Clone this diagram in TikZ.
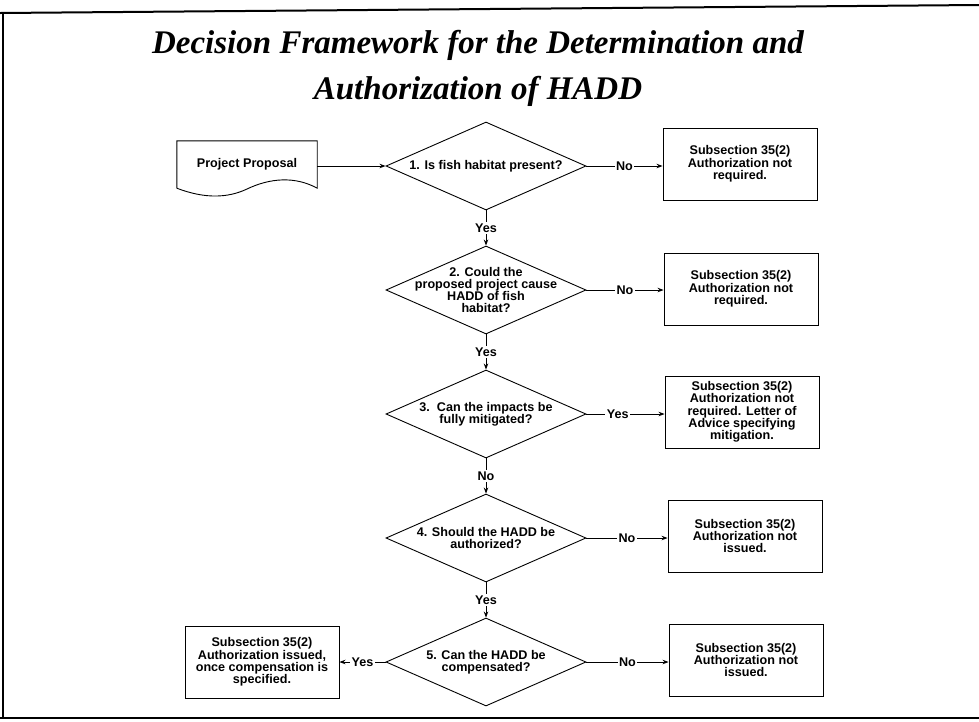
\documentclass[tikz,border=0pt]{standalone}
\usepackage{fontspec}
\setmainfont{Liberation Sans}
\newfontfamily\titlefont{Liberation Serif}
\usetikzlibrary{shapes.geometric,arrows.meta}
\begin{document}
\begin{tikzpicture}[x=1pt,y=-1pt,
  txt/.style={font=\bfseries\fontsize{12.6}{12.3}\selectfont},
  dia/.style={draw, shape=diamond, minimum width=200pt, minimum height=88pt, inner sep=0pt, line width=0.9pt},
  dtext/.style={txt, align=center, inner sep=0pt},
  box/.style={txt, draw, line width=0.9pt, minimum width=154pt, minimum height=72pt, inner sep=0pt, align=center},
  lbl/.style={txt, fill=white, inner sep=1.5pt},
  arr/.style={-{Stealth[length=6pt,width=4.5pt]}, line width=0.9pt},
  frame/.style={line width=2pt}
]
\useasboundingbox (0,0) rectangle (979,721);
% frame
\coordinate (ftl) at (0,13);
\coordinate (ftr) at (979,5);
\coordinate (fl1) at (3,12);
\coordinate (fl2) at (3,718);
\coordinate (fbl) at (0,718);
\coordinate (fbr) at (979,718);
\draw[frame] (ftl) -- (ftr);
\draw[frame] (fl1) -- (fl2);
\draw[frame] (fbl) -- (fbr);
% title
\node[font=\titlefont\bfseries\itshape\fontsize{33}{46}\selectfont, align=center] (title) at (478,68)
  {Decision Framework for the Determination and\\Authorization of HADD};
% project proposal (document shape)
\node[txt, minimum width=140pt, minimum height=47pt, inner sep=0pt] (pp) at (247,164.5) {\raisebox{4pt}{Project Proposal}};
\draw[line width=0.9pt] (pp.south west) -- (pp.north west) -- (pp.north east) -- (pp.south east)
  .. controls (295,176) and (270,178) .. (247,189)
  .. controls (228,198) and (205,199) .. (pp.south west);
% diamonds
\node[dia] (d1) at (486,166) {};
\node[dia] (d2) at (486,290) {};
\node[dia] (d3) at (486,414) {};
\node[dia] (d4) at (486,538) {};
\node[dia] (d5) at (486,662) {};
\node[dtext] (t1) at (d1) {1. Is fish habitat present?};
\node[dtext] (t2) at (d2) {2. Could the\\proposed project cause\\HADD of fish\\habitat?};
\node[dtext] (t3) at (d3) {3.\ \ Can the impacts be\\fully mitigated?};
\node[dtext] (t4) at (d4) {4. Should the HADD be\\authorized?};
\node[dtext] (t5) at (d5) {5. Can the HADD be\\compensated?};
% boxes
\node[box] (b1) at (740,164) {Subsection 35(2)\\Authorization not\\required.};
\node[box] (b2) at (741,289) {Subsection 35(2)\\Authorization not\\required.};
\node[box] (b3) at (742,412) {Subsection 35(2)\\Authorization not\\required. Letter of\\Advice specifying\\mitigation.};
\node[box] (b4) at (745,536) {Subsection 35(2)\\Authorization not\\issued.};
\node[box] (b5) at (746,660) {Subsection 35(2)\\Authorization not\\issued.};
\node[box] (bl) at (262,662) {Subsection 35(2)\\Authorization issued,\\once compensation is\\specified.};
% connectors
\draw[arr] (pp.east |- d1.west) -- (d1.west);
\draw[arr] (d1.east) -- node[lbl] {No} (d1.east -| b1.west);
\draw[arr] (d2.east) -- node[lbl] {No} (d2.east -| b2.west);
\draw[arr] (d3.east) -- node[lbl, pos=0.4] {Yes} (d3.east -| b3.west);
\draw[arr] (d4.east) -- node[lbl] {No} (d4.east -| b4.west);
\draw[arr] (d5.east) -- node[lbl] {No} (d5.east -| b5.west);
\draw[arr] (d5.west) -- node[lbl] {Yes} (d5.west -| bl.east);
\draw[arr] (d1.south) -- node[lbl] {Yes} (d2.north);
\draw[arr] (d2.south) -- node[lbl] {Yes} (d3.north);
\draw[arr] (d3.south) -- node[lbl] {No} (d4.north);
\draw[arr] (d4.south) -- node[lbl] {Yes} (d5.north);
\end{tikzpicture}
\end{document}
